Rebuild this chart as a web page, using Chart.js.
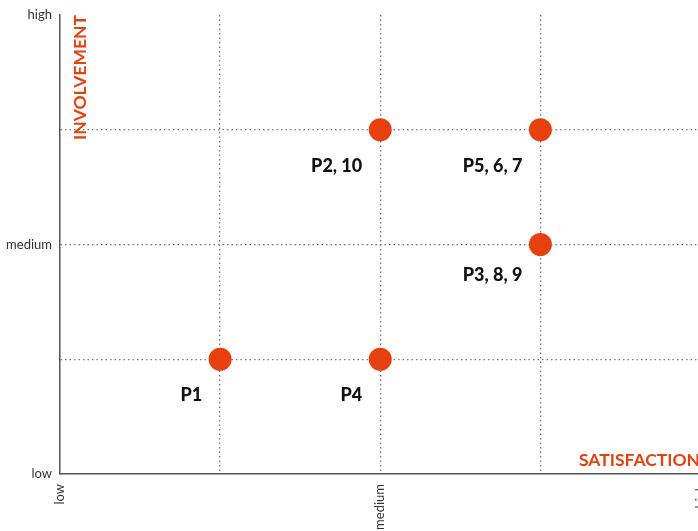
<!DOCTYPE html>
<html>
<head>
<meta charset="utf-8">
<script src="https://cdn.jsdelivr.net/npm/chart.js@4"></script>
<style>
  html, body { margin: 0; padding: 0; background: #fff; overflow: hidden; }
  #wrap { width: 712px; height: 532px; }
</style>
</head>
<body>
<div id="wrap"><canvas id="myChart"></canvas></div>
<script>
// satisfaction (x) and involvement (y), 0 = low, 2 = medium, 4 = high
const pointNames = ['P1', 'P4', 'P2, 10', 'P5, 6, 7', 'P3, 8, 9'];
const satisfaction = [1, 2, 2, 3, 3];
const involvement = [1, 1, 3, 3, 2];
const levelLabels = { 0: 'low', 2: 'medium', 4: 'high' };

const orange = '#e6400e';

const dots = satisfaction.map((x, i) => ({ x: x, y: involvement[i] }));

// names under each dot + the two axis titles
const textPlugin = {
  id: 'texts',
  afterDatasetsDraw(chart) {
    const ctx = chart.ctx;
    const meta = chart.getDatasetMeta(0);
    ctx.save();
    ctx.fillStyle = '#111';
    ctx.font = '900 18px Lato';
    ctx.textAlign = 'right';
    ctx.textBaseline = 'middle';
    meta.data.forEach((pt, i) => {
      const dy = involvement[i] === 2 ? 31 : 36;
      ctx.fillText(pointNames[i], pt.x - 18, pt.y + dy);
    });

    const area = chart.chartArea;
    ctx.fillStyle = orange;
    ctx.font = 'bold 17.5px Lato';
    ctx.textAlign = 'left';
    ctx.fillText('SATISFACTION', 579, area.bottom - 14);

    ctx.translate(area.left + 20, area.top);
    ctx.rotate(-Math.PI / 2);
    ctx.textAlign = 'right';
    ctx.fillText('INVOLVEMENT', 0, 0);
    ctx.restore();
  }
};

const gridColor = c => (c.tick.value === 0 || c.tick.value === 4) ? 'rgba(0,0,0,0)' : '#777';

new Chart(document.getElementById('myChart'), {
  type: 'scatter',
  data: {
    datasets: [{
      data: dots,
      backgroundColor: orange,
      borderWidth: 0,
      pointRadius: 11.5,
      pointHoverRadius: 11.5
    }]
  },
  options: {
    responsive: true,
    maintainAspectRatio: false,
    animation: false,
    layout: { padding: { top: 15, right: 0, left: 0, bottom: 0 } },
    plugins: { legend: { display: false }, tooltip: { enabled: false } },
    scales: {
      x: {
        type: 'linear', min: 0, max: 4,
        border: { display: true, color: '#555', width: 1.5, dash: [1.5, 3] },
        grid: { color: gridColor, lineWidth: 1.3, drawTicks: false },
        ticks: {
          stepSize: 1, autoSkip: false, minRotation: 90, maxRotation: 90, padding: 10,
          color: '#333', font: { family: 'Lato', size: 13 },
          callback: v => levelLabels[v] || ''
        },
        afterFit(scale) { scale.height = 58; scale.paddingLeft = 0; scale.paddingRight = 0; }
      },
      y: {
        type: 'linear', min: 0, max: 4,
        border: { display: true, color: '#555', width: 1.5, dash: [1.5, 3] },
        grid: { color: gridColor, lineWidth: 1.3, drawTicks: false },
        ticks: {
          stepSize: 1, autoSkip: false, padding: 8,
          color: '#333', font: { family: 'Lato', size: 13 },
          callback: v => levelLabels[v] || ''
        },
        afterFit(scale) { scale.width = 60; scale.paddingTop = 0; scale.paddingBottom = 0; }
      }
    }
  },
  plugins: [textPlugin]
});
</script>
</body>
</html>
